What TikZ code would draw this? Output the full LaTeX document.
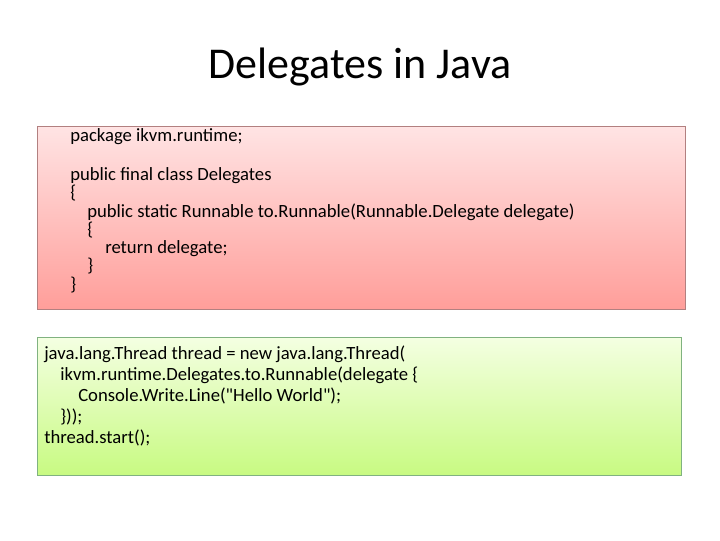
\documentclass[tikz,border=0pt]{standalone}
\usepackage{fontspec}
\setmainfont{Carlito}[Ligatures=TeXOff]
\definecolor{rtop}{RGB}{255,228,228}
\definecolor{rbot}{RGB}{255,158,154}
\definecolor{gtop}{RGB}{244,255,226}
\definecolor{gbot}{RGB}{200,250,130}
\begin{document}
\begin{tikzpicture}[x=0.75pt,y=-0.75pt,
  ln/.style={anchor=base west,inner sep=0pt,font=\fontsize{14}{16}\selectfont}]
\useasboundingbox (0,0) rectangle (720,540);
\fill[white] (0,0) rectangle (720,540);
\node[font=\fontsize{33}{38}\selectfont] (title) at (360,67) {Delegates in Java};
\shade[top color=rtop,bottom color=rbot,draw=red!40!black!50] (37,126) rectangle (685,309);
\node[ln] (r1) at (70,141) {package ikvm.runtime;};
\node[ln] (r2) at (70,180) {public final class Delegates};
\node[ln] (r3) at (70,198) {\{};
\node[ln] (r4) at (87,217) {public static Runnable to.Runnable(Runnable.Delegate delegate)};
\node[ln] (r5) at (87,235) {\{};
\node[ln] (r6) at (105,253) {return delegate;};
\node[ln] (r7) at (87,271) {\}};
\node[ln] (r8) at (70,290) {\}};
\shade[top color=gtop,bottom color=gbot,draw=green!40!black!50] (37,337) rectangle (681,475);
\node[ln] (g1) at (44,359) {java.lang.Thread thread = new java.lang.Thread(};
\node[ln] (g2) at (60,380) {ikvm.runtime.Delegates.to.Runnable(delegate \{};
\node[ln] (g3) at (78,401) {Console.Write.Line("Hello World");};
\node[ln] (g4) at (60,422) {\}));};
\node[ln] (g5) at (44,443) {thread.start();};
\end{tikzpicture}
\end{document}
